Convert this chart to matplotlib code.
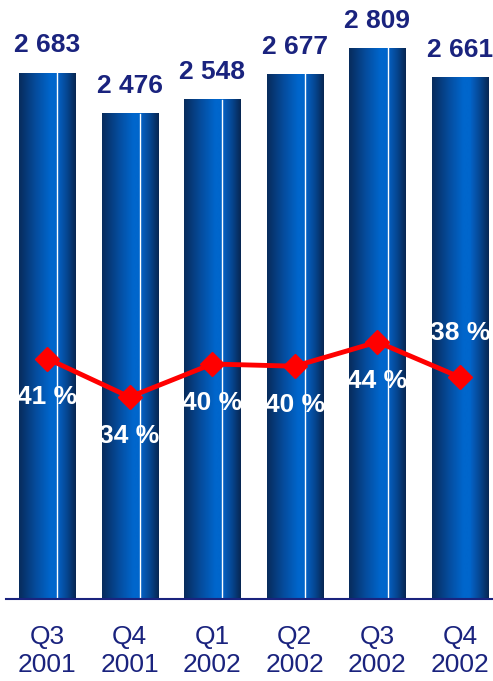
import matplotlib
matplotlib.use("Agg")
import matplotlib.pyplot as plt
import numpy as np

categories = ["Q3\n2001", "Q4\n2001", "Q1\n2002", "Q2\n2002", "Q3\n2002", "Q4\n2002"]
volumes = [2683, 2476, 2548, 2677, 2809, 2661]
volume_labels = ["2 683", "2 476", "2 548", "2 677", "2 809", "2 661"]
ratios = [41, 34, 40, 39.6, 44, 37.6]
ratio_labels = ["41 %", "34 %", "40 %", "40 %", "44 %", "38 %"]

W, H = 493, 681
fig = plt.figure(figsize=(W / 100, H / 100), dpi=100)
plt.rcParams['font.family'] = ['Liberation Sans', 'DejaVu Sans']

spacing = 82.6
left_px = 47 - spacing / 2
ax_w_px = spacing * 6
bottom_px = 599
top_px = 11
ax = fig.add_axes([left_px / W, (H - bottom_px) / H, ax_w_px / W, (bottom_px - top_px) / H])
ax.set_xlim(-0.5, 5.5)
ax.set_ylim(0, 3000)
ax.axis('off')

x = np.arange(len(categories))
bars = ax.bar(x, volumes, width=0.68, color='none', edgecolor='none')

# gradient
stops = [(0.0, (0.03, 0.17, 0.36)), (0.30, (0.02, 0.30, 0.62)), (0.55, (0.0, 0.40, 0.80)),
         (0.67, (0.0, 0.40, 0.80)), (0.70, (0.02, 0.37, 0.75)), (0.85, (0.02, 0.27, 0.56)),
         (1.0, (0.03, 0.15, 0.32))]
n = 200
t = np.linspace(0, 1, n)
grad = np.zeros((1, n, 3))
for c in range(3):
    grad[0, :, c] = np.interp(t, [s[0] for s in stops], [s[1][c] for s in stops])

for i, b in enumerate(bars):
    x0 = b.get_x(); w = b.get_width(); h = b.get_height()
    ax.imshow(grad, extent=(x0, x0 + w, 0, h), aspect='auto', zorder=2, interpolation='bilinear')
    if i < len(bars) - 1:
        ax.plot([x0 + 0.68 * w] * 2, [0, h], color='white', lw=1.0, zorder=3)
    ax.annotate(volume_labels[i], (x[i], h), xytext=(0, 20), textcoords='offset points',
                ha='center', va='center', fontsize=19, fontweight='bold', color='#1a237e', zorder=6)

ax.set_xlim(-0.5, 5.5)
ax.set_ylim(0, 3000)

# baseline
fig.add_artist(plt.Line2D([6 / W, 1.0], [(H - bottom_px) / H] * 2, color='#1a237e', lw=1.5))

# category labels
for i, c in enumerate(categories):
    ax.annotate(c, (x[i], 0), xytext=(0, -37.5), textcoords='offset points', ha='center', va='center',
                fontsize=19, color='#1a237e', linespacing=1.2, annotation_clip=False)

# ratio line
ax2 = ax.twinx()
ax2.set_ylim((584 - 599) / 5.5, (584 - 11) / 5.5)
ax2.axis('off')
ax2.plot(x, ratios, color='#ff0000', lw=3.5, marker='D', markersize=12, zorder=5)
for i, r in enumerate(ratios):
    off = 32 if i == len(ratios) - 1 else -28
    ax2.annotate(ratio_labels[i], (x[i], r), xytext=(0, off), textcoords='offset points',
                 ha='center', va='center', fontsize=19, fontweight='bold', color='white', zorder=6,
                 annotation_clip=False)

fig.savefig("out.png", dpi=100)
